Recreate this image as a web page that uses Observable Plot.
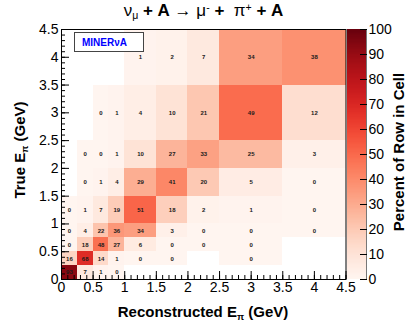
<!DOCTYPE html>
<html><head><meta charset="utf-8">
<script src="https://cdn.jsdelivr.net/npm/d3@7"></script>
<script src="https://cdn.jsdelivr.net/npm/@observablehq/plot@0.6"></script>
<style>
html,body{margin:0;padding:0;background:#fff;}
#wrap{position:relative;width:407px;height:328px;overflow:hidden;font-family:"Liberation Sans",Arial,Helvetica,sans-serif;color:#000;}
#wrap svg{position:absolute;left:0;top:0;max-width:none;}
.lbl{position:absolute;white-space:nowrap;text-align:center;}
.lbl sub,.lbl sup{font-size:0.62em;line-height:0;position:relative;vertical-align:baseline;}
.lbl sub{top:0.3em;}
.lbl sup{top:-0.45em;}
#title{left:0;top:0;width:407px;font-size:17px;line-height:22px;}
#xtitle{left:103px;top:303px;width:200px;font-size:15px;font-weight:bold;line-height:18px;}
.rot{width:220px;height:18px;line-height:18px;font-size:15px;font-weight:bold;transform:rotate(-90deg);}
#ytitle{left:-90px;top:141px;}
#ctitle{left:289px;top:143px;}
#minerva{position:absolute;left:74px;top:32px;width:70px;height:20px;border:1px solid #444;background:#fff;box-sizing:border-box;color:#0000ff;font-weight:bold;font-size:10px;line-height:19px;padding-left:7px;}
</style></head><body>
<div id="wrap"></div>
<script>
// Bin edges (GeV) shared by reconstructed (x) and true (y) pion energy
const binEdges = [0, 0.25, 0.5, 0.75, 1.0, 1.5, 2.0, 2.5, 3.5, 4.5];
// Percent of each true-E row found in each reconstructed-E column (null = empty cell)
const row_0_025  = [93, 7, 1, 0, null, null, null, null, null];
const row_025_05 = [16, 68, 14, 1, 0, 0, null, 0, null];
const row_05_075 = [0, 18, 48, 27, 6, 0, 0, 0, null];
const row_075_1  = [0, 4, 22, 36, 34, 3, 0, 0, 0];
const row_1_15   = [0, 1, 7, 19, 51, 18, 2, 1, 0];
const row_15_2   = [null, 0, 1, 4, 29, 41, 20, 5, 0];
const row_2_25   = [null, 0, 0, 1, 10, 27, 33, 25, 3];
const row_25_35  = [null, null, 0, 1, 4, 10, 21, 49, 12];
const row_35_45  = [null, null, null, null, 1, 2, 7, 34, 38];
const axisTicks = [0, 0.5, 1, 1.5, 2, 2.5, 3, 3.5, 4, 4.5];
const axisTickLabels = ["0", "0.5", "1", "1.5", "2", "2.5", "3", "3.5", "4", "4.5"];
const minorTicks = d3.range(0, 46).map(i => i / 10);
const colorTicks = [0, 10, 20, 30, 40, 50, 60, 70, 80, 90, 100];
const colorTickLabels = ["0", "10", "20", "30", "40", "50", "60", "70", "80", "90", "100"];

const rows = [row_0_025, row_025_05, row_05_075, row_075_1, row_1_15, row_15_2, row_2_25, row_25_35, row_35_45];
const cells = [];
rows.forEach((r, i) => r.forEach((v, j) => {
  if (v !== null) cells.push({x1: binEdges[j], x2: binEdges[j + 1], y1: binEdges[i], y2: binEdges[i + 1], v});
}));

const W = 407, H = 328;
const font = "'Liberation Sans', Arial, Helvetica, sans-serif";
const colorOpt = {type: "linear", scheme: "reds", domain: [0, 100]};

const main = Plot.plot({
  width: W, height: H,
  marginLeft: 61, marginRight: 61.5, marginTop: 29, marginBottom: 49,
  x: {domain: [0, 4.5]},
  y: {domain: [0, 4.5]},
  color: colorOpt,
  style: {fontFamily: font, fontSize: "14px", color: "#000", background: "transparent", overflow: "visible"},
  marks: [
    Plot.rect(cells, {x1: "x1", x2: "x2", y1: "y1", y2: "y2", fill: "v", shapeRendering: "crispEdges"}),
    Plot.text(cells, {x: d => (d.x1 + d.x2) / 2, y: d => (d.y1 + d.y2) / 2, text: d => String(d.v),
      fontSize: 6, fontWeight: "bold", fill: "#1a1a1a"}),
    Plot.frame({stroke: "#000", strokeWidth: 1}),
    Plot.axisX({ticks: axisTicks, tickFormat: d => axisTickLabels[axisTicks.indexOf(d)], tickSize: 0, tickPadding: 3, label: null}),
    Plot.axisX({ticks: axisTicks, tickSize: -8, text: null, label: null}),
    Plot.axisX({ticks: minorTicks, tickSize: -4, text: null, label: null}),
    Plot.axisY({ticks: axisTicks, tickFormat: d => axisTickLabels[axisTicks.indexOf(d)], tickSize: 0, tickPadding: 3, label: null}),
    Plot.axisY({ticks: axisTicks, tickSize: -8, text: null, label: null}),
    Plot.axisY({ticks: minorTicks, tickSize: -4, text: null, label: null})
  ]
});

const cbSteps = d3.range(0, 100, 0.5);
const cbar = Plot.plot({
  width: W, height: H,
  marginLeft: 347, marginRight: 41, marginTop: 29, marginBottom: 49,
  x: {domain: [0, 1], axis: null},
  y: {domain: [0, 100]},
  color: colorOpt,
  style: {fontFamily: font, fontSize: "14px", color: "#000", background: "transparent", overflow: "visible"},
  marks: [
    Plot.rect(cbSteps, {x1: () => 0, x2: () => 1, y1: d => d, y2: d => d + 0.5, fill: d => d + 0.25, shapeRendering: "crispEdges"}),
    Plot.ruleX([1], {stroke: "#777"}),
    Plot.axisY({anchor: "right", ticks: colorTicks, tickSize: -7, text: null, label: null}),
    Plot.axisY({anchor: "right", ticks: colorTicks, tickFormat: d => colorTickLabels[colorTicks.indexOf(d)], tickSize: 0, tickPadding: 2, label: null})
  ]
});

const wrap = document.getElementById("wrap");
wrap.appendChild(main);
wrap.appendChild(cbar);
wrap.insertAdjacentHTML("beforeend", `
<div id="title" class="lbl">ν<sub>μ</sub> <b>+ A</b> &rarr; μ<sup>-</sup> <b>+</b> &nbsp;π<sup>+</sup> <b>+ A</b></div>
<div id="xtitle" class="lbl">Reconstructed E<sub>π</sub> (GeV)</div>
<div id="ytitle" class="lbl rot">True E<sub>π</sub> (GeV)</div>
<div id="ctitle" class="lbl rot">Percent of Row in Cell</div>
<div id="minerva">MINERνA</div>`);
</script>
</body></html>
